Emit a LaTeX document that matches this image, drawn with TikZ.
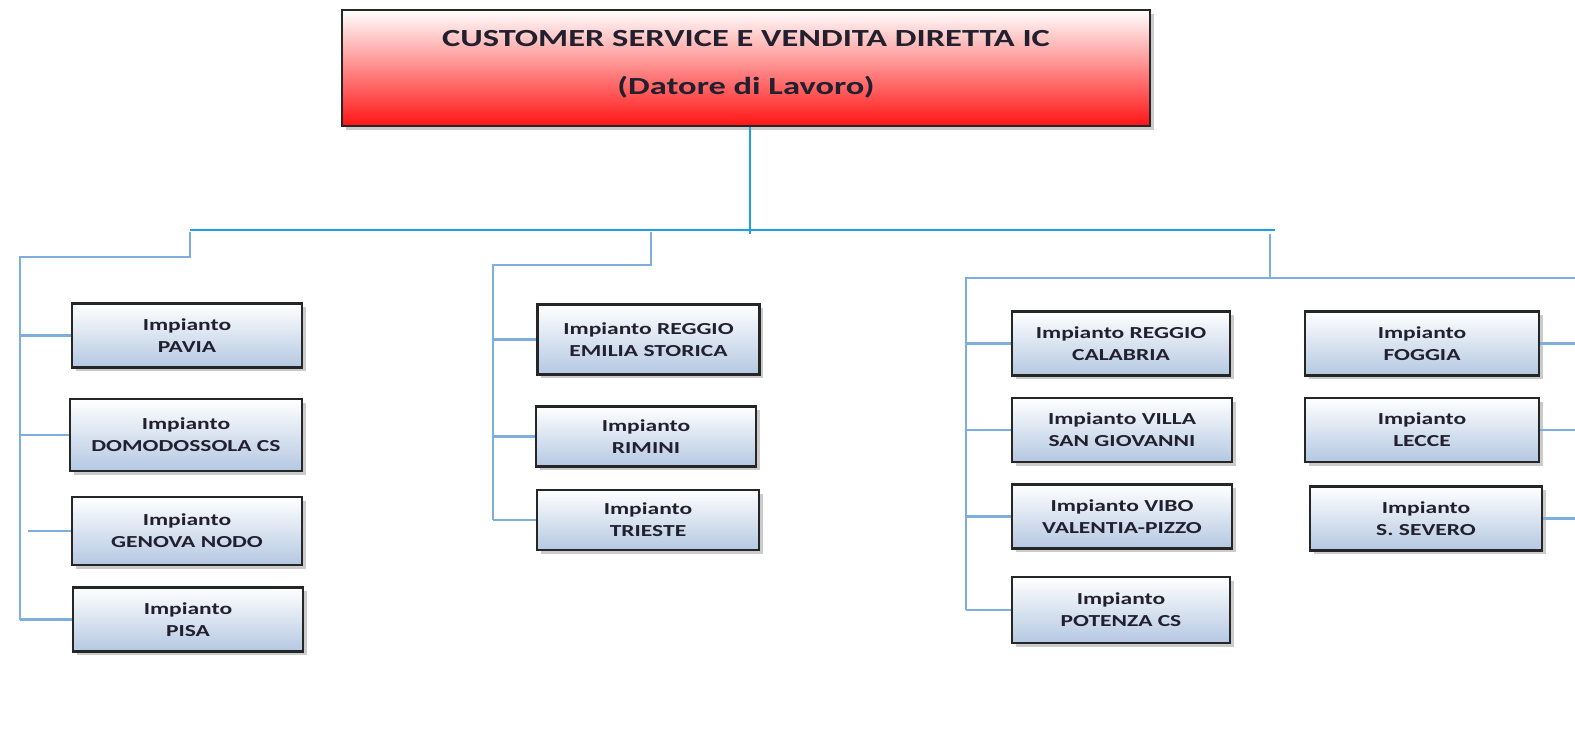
\documentclass[tikz,border=0pt]{standalone}
\usepackage{fontspec}
\usepackage{tikz}
\usetikzlibrary{shadows}
\newfontfamily\orgfont[FakeStretch=1.4]{Carlito}
\definecolor{linkblue}{HTML}{7EAEE0}
\definecolor{buscyan}{HTML}{1EA0E6}
\definecolor{boxblue}{HTML}{B4C8E2}
\definecolor{headred}{HTML}{FF1414}
\definecolor{inkdark}{HTML}{22202E}
\tikzset{
	orgnode/.style = {
		align=center,
		inner sep=0pt,
		text centered,
		font=\orgfont\bfseries,
		text=inkdark,
		draw=black!85,
		line width=1.1pt,
		drop shadow={shadow xshift=1.8pt, shadow yshift=-1.8pt, fill=black!45, opacity=0.45}
	},
	node_head/.style = {
		orgnode,
		top color=white,
		bottom color=headred,
		minimum width=404pt,
		minimum height=58pt,
		font=\orgfont\bfseries\fontsize{12.3}{13}\selectfont
	},
	node_plant/.style = {
		orgnode,
		top color=white,
		bottom color=boxblue,
		minimum width=115pt,
		minimum height=32pt,
		font=\orgfont\bfseries\fontsize{8.4}{11}\selectfont
	},
	link/.style = {
		draw=linkblue,
		line width=1.4pt
	},
	link_bus/.style = {
		draw=buscyan,
		line width=1pt
	},
}
\begin{document}
\begin{tikzpicture}[x=0.5pt,y=-0.5pt]
\useasboundingbox (0,0) rectangle (1575,741);
% head
\node [node_head] (head) at (746,68) {CUSTOMER SERVICE E VENDITA DIRETTA IC\\[11pt](Datore di Lavoro)\\[-7pt]};
% first group
\node [node_plant] (pavia) at (187,335.5) {Impianto\\PAVIA};
\node [node_plant, minimum width=116pt, minimum height=36pt] (domodossola) at (186,435) {Impianto\\DOMODOSSOLA CS};
\node [node_plant, minimum height=34pt] (genova) at (187,531) {Impianto\\GENOVA NODO};
\node [node_plant] (pisa) at (188,619.5) {Impianto\\PISA};
% second group
\node [node_plant, minimum width=111pt, minimum height=35pt] (reggio_emilia) at (648.5,339.5) {Impianto REGGIO\\EMILIA STORICA};
\node [node_plant, minimum width=110pt, minimum height=30pt] (rimini) at (646,436.5) {Impianto\\RIMINI};
\node [node_plant, minimum width=111pt, minimum height=30pt] (trieste) at (648,520) {Impianto\\TRIESTE};
% third group
\node [node_plant, minimum width=109pt] (reggio_calabria) at (1121,343.5) {Impianto REGGIO\\CALABRIA};
\node [node_plant, minimum width=110pt] (villa) at (1122,430) {Impianto VILLA\\SAN GIOVANNI};
\node [node_plant, minimum width=110pt] (vibo) at (1122,516.5) {Impianto VIBO\\VALENTIA-PIZZO};
\node [node_plant, minimum width=109pt, minimum height=33pt] (potenza) at (1121,610) {Impianto\\POTENZA CS};
\node [node_plant, minimum width=117pt] (foggia) at (1422,343.5) {Impianto\\FOGGIA};
\node [node_plant, minimum width=117pt] (lecce) at (1422,430) {Impianto\\LECCE};
\node [node_plant, minimum width=116pt] (severo) at (1426,518.5) {Impianto\\S. SEVERO};
% bus
\coordinate (bus_l) at (190,230);
\coordinate (bus_r) at (1275,230);
\coordinate (top_split) at (750,234);
\coordinate (knee_a) at (20,257);
\coordinate (knee_b) at (493,265);
\coordinate (knee_c) at (966,278);
\coordinate (edge_c) at (1575,278);
\draw [link_bus] (bus_l) -- (bus_r);
\draw [link_bus] (head.south -| top_split) -- (top_split);
% branches
\draw [link] (190,232) |- (knee_a) -- (pisa.west -| knee_a);
\draw [link] (651,232) |- (knee_b) -- (trieste.west -| knee_b);
\draw [link] (1270,234) -- (1270,278);
\draw [link] (edge_c) -- (knee_c) -- (potenza.west -| knee_c);
\foreach \n in {pavia,domodossola,pisa}
	\draw [link] (\n.west) -- (\n.west -| knee_a);
\draw [link] (genova.west) -- (28,531);
\foreach \n in {reggio_emilia,rimini,trieste}
	\draw [link] (\n.west) -- (\n.west -| knee_b);
\foreach \n in {reggio_calabria,villa,vibo,potenza}
	\draw [link] (\n.west) -- (\n.west -| knee_c);
\foreach \n in {foggia,lecce,severo}
	\draw [link] (\n.east) -- (\n.east -| edge_c);
\end{tikzpicture}
\end{document}
